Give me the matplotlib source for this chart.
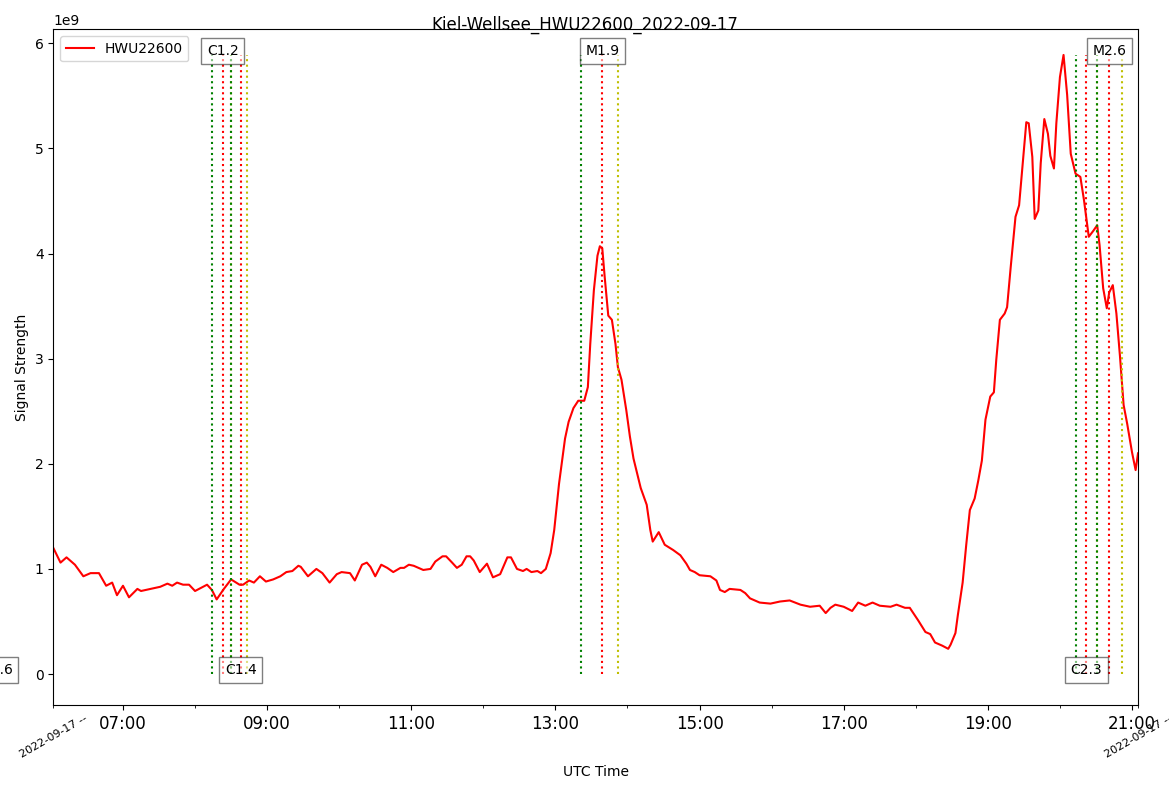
import datetime as dt
import matplotlib
matplotlib.use("Agg")
import matplotlib.pyplot as plt
import matplotlib.dates as mdates
from matplotlib.ticker import FixedLocator, FuncFormatter

# Station / day
station = "HWU22600"
site = "Kiel-Wellsee"
day = dt.datetime(2022, 9, 17)
base = day + dt.timedelta(hours=6)

# signal: minutes after 06:00 UTC and strength in units of 1e9
minutes = [2, 8, 13, 20, 27, 33, 40, 46, 51, 55, 60, 65, 72, 75, 83, 91, 97, 101,
           105, 110, 115, 120, 125, 130, 134, 138, 144, 150, 157, 160, 165, 169,
           174, 179, 185, 191, 196, 201, 206, 208, 214, 221, 226, 232, 238, 242,
           249, 253, 259, 263, 266, 270, 275, 280, 285, 291, 294, 298, 302, 310,
           316, 320, 326, 329, 334, 338, 342, 346, 349, 352, 357, 363, 368, 374,
           380, 383, 388, 393, 396, 400, 405, 408, 412, 416, 419, 423, 428, 431,
           435, 439, 444, 447, 449, 452, 455, 457, 459, 461, 464, 467, 470, 472,
           475, 479, 482, 485, 488, 491, 496, 499, 501, 506, 511, 518, 524, 529,
           532, 536, 540, 549, 554, 557, 561, 565, 574, 578, 582, 590, 599, 607,
           615, 624, 632, 640, 645, 649, 653, 660, 667, 672, 678, 684, 690, 699,
           704, 711, 715, 722, 728, 732, 736, 742, 747, 749, 753, 755, 759, 762,
           765, 769, 772, 775, 778, 782, 785, 787, 790, 794, 796, 799, 803, 806,
           809, 812, 814, 817, 819, 822, 824, 827, 830, 832, 835, 837, 840, 843,
           846, 849, 853, 857, 860, 864, 868, 871, 873, 876, 879, 881, 884, 887,
           890, 893, 896, 900, 903, 905]
strength = [1.20, 1.06, 1.11, 1.04, 0.93, 0.96, 0.96, 0.84, 0.87, 0.75, 0.84, 0.73,
            0.81, 0.79, 0.81, 0.83, 0.86, 0.84, 0.87, 0.85, 0.85, 0.79, 0.82, 0.85,
            0.80, 0.71, 0.81, 0.90, 0.85, 0.85, 0.89, 0.87, 0.93, 0.88, 0.90, 0.93,
            0.97, 0.98, 1.03, 1.02, 0.93, 1.00, 0.96, 0.87, 0.95, 0.97, 0.96, 0.89,
            1.04, 1.06, 1.02, 0.93, 1.04, 1.01, 0.97, 1.01, 1.01, 1.04, 1.03, 0.99,
            1.00, 1.07, 1.12, 1.12, 1.06, 1.01, 1.04, 1.12, 1.12, 1.08, 0.97, 1.05,
            0.92, 0.95, 1.11, 1.11, 1.00, 0.98, 1.00, 0.97, 0.98, 0.96, 1.00, 1.15,
            1.37, 1.81, 2.24, 2.40, 2.53, 2.60, 2.60, 2.73, 3.14, 3.65, 3.98, 4.07,
            4.05, 3.78, 3.41, 3.37, 3.14, 2.92, 2.80, 2.51, 2.26, 2.05, 1.91, 1.77,
            1.61, 1.37, 1.26, 1.35, 1.23, 1.18, 1.13, 1.05, 0.99, 0.97, 0.94, 0.93,
            0.89, 0.80, 0.78, 0.81, 0.80, 0.77, 0.72, 0.68, 0.67, 0.69, 0.70, 0.66,
            0.64, 0.65, 0.58, 0.63, 0.66, 0.64, 0.60, 0.68, 0.65, 0.68, 0.65, 0.64,
            0.66, 0.63, 0.63, 0.51, 0.40, 0.38, 0.30, 0.27, 0.24, 0.28, 0.39, 0.56,
            0.87, 1.23, 1.56, 1.67, 1.84, 2.03, 2.42, 2.64, 2.68, 2.99, 3.37, 3.43,
            3.49, 3.87, 4.35, 4.46, 4.86, 5.25, 5.24, 4.92, 4.33, 4.41, 4.86, 5.28,
            5.14, 4.93, 4.81, 5.24, 5.68, 5.89, 5.51, 4.95, 4.76, 4.73, 4.51, 4.16,
            4.22, 4.27, 4.08, 3.67, 3.48, 3.63, 3.70, 3.43, 3.02, 2.56, 2.38, 2.11,
            1.94, 2.10]

# GOES flares: class, start, peak, end (UTC)
flare_class = ["C1.6", "C1.2", "C1.4", "M1.9", "C2.3", "M2.6"]
flare_start = ["05:05", "08:14", "08:30", "13:21", "20:13", "20:31"]
flare_peak = ["05:15", "08:23", "08:38", "13:39", "20:22", "20:41"]
flare_end = ["05:25", "08:30", "08:43", "13:52", "20:31", "20:52"]


def hhmm(s):
    h, m = s.split(":")
    return day + dt.timedelta(hours=int(h), minutes=int(m))


t = [base + dt.timedelta(minutes=m) for m in minutes]
y = [v * 1e9 for v in strength]
ymax = max(y)

fig = plt.figure(figsize=(11.69, 7.92), dpi=100)
ax = fig.add_axes([0.0456, 0.1098, 0.9735 - 0.0456, 0.963 - 0.1098])

ax.plot(t, y, color="red", label=station)

for i, cls in enumerate(flare_class):
    s, p, e = hhmm(flare_start[i]), hhmm(flare_peak[i]), hhmm(flare_end[i])
    ax.vlines(s, 0, ymax, colors="g", linestyles=":")
    ax.vlines(p, 0, ymax, colors="r", linestyles=":")
    ax.vlines(e, 0, ymax, colors="y", linestyles=":")
    ypos = 0 if i % 2 == 0 else ymax
    ax.text(p, ypos, cls, ha="center", clip_on=False,
            bbox=dict(facecolor="white", alpha=0.5, edgecolor="black"))

ax.set_xlim(t[0], t[-1])
ax.set_ylim(-0.295e9, 6.134e9)

# major ticks every 2 hours, minor at the even hours plus the day at both ends
ax.xaxis.set_major_locator(mdates.HourLocator(byhour=range(7, 22, 2)))
ax.xaxis.set_major_formatter(mdates.DateFormatter("%H:%M"))
edges = [mdates.date2num(t[0]), mdates.date2num(t[-1])]
evens = [mdates.date2num(day + dt.timedelta(hours=h)) for h in range(8, 21, 2)]
ax.xaxis.set_minor_locator(FixedLocator(evens + edges))


def edge_label(x, pos):
    if min(abs(x - e) for e in edges) < 1e-6:
        return day.strftime("%Y-%m-%d") + " --"
    return ""


ax.xaxis.set_minor_formatter(FuncFormatter(edge_label))
ax.tick_params(axis="x", which="major", labelsize=12)
ax.tick_params(axis="x", which="minor", labelsize=8, labelrotation=30)

ax.set_xlabel("UTC Time")
ax.set_ylabel("Signal Strength")
ax.legend(loc="upper left")
fig.suptitle(f"{site}_{station}_{day:%Y-%m-%d}")

fig.savefig("out.png", dpi=100)
